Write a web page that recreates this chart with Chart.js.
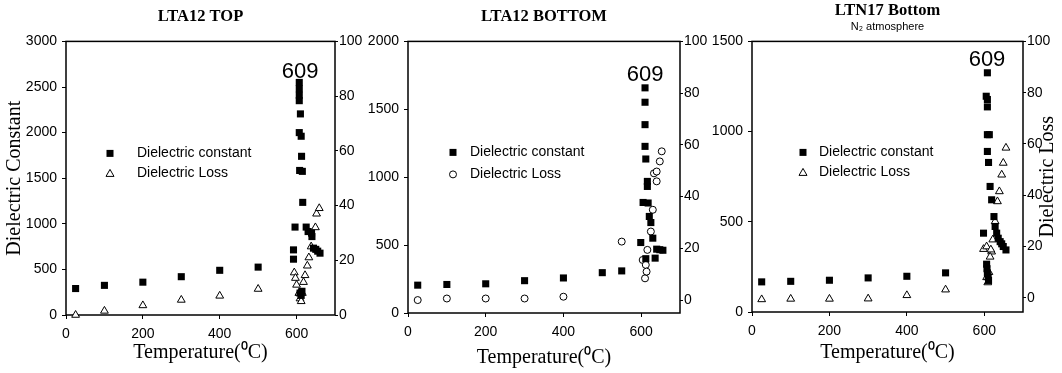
<!DOCTYPE html>
<html>
<head>
<meta charset="utf-8">
<script src="https://cdn.jsdelivr.net/npm/chart.js@4.4.1/dist/chart.umd.min.js"></script>
<style>
  body { margin: 0; background: #fff; }
  #wrap { position: relative; width: 1062px; height: 373px; background: #fff; }
  canvas { position: absolute; left: 0; top: 0; }
</style>
</head>
<body>
<div id="wrap">
  <canvas id="top" width="1062" height="373"></canvas>
  <canvas id="bottom" width="1062" height="373"></canvas>
  <canvas id="ltn" width="1062" height="373"></canvas>
</div>
<script>
const TEMP_TICKS = [0, 200, 400, 600];
const LOSS_TICKS = [0, 20, 40, 60, 80, 100];
const PEAK_LABEL = '609';

// LTA12 TOP
const TOP_CONST_TICKS = [0, 500, 1000, 1500, 2000, 2500, 3000];
const TOP_CONST_T = [25, 100, 200, 300, 400, 500, 592, 592, 596, 607, 607, 607, 607, 610, 607, 612, 613, 608, 615, 616, 625, 630, 639, 640, 644, 650, 655, 661, 609, 612, 614];
const TOP_CONST = [290, 325, 360, 420, 490, 525, 612, 714, 964, 2550, 2480, 2410, 2350, 2205, 2000, 1960, 1740, 1585, 1575, 1235, 964, 915, 898, 860, 733, 720, 700, 678, 240, 215, 260];
const TOP_LOSS_T = [25, 100, 200, 300, 400, 500, 594, 597, 600, 606, 609, 612, 615, 618, 622, 628, 632, 638, 649, 652, 659];
const TOP_LOSS = [0, 1.5, 3.5, 5.5, 7, 9.5, 15.5, 13.5, 11, 8, 6, 5, 8, 12, 14.5, 18, 21, 25, 32, 37, 39];

// LTA12 BOTTOM
const BOT_CONST_TICKS = [0, 500, 1000, 1500, 2000];
const BOT_CONST_T = [25, 100, 200, 300, 400, 500, 550, 610, 610, 610, 610, 612, 616, 616, 605, 618, 621, 625, 599, 630, 636, 640, 648, 656, 612];
const BOT_CONST = [205, 210, 215, 238, 258, 297, 310, 1658, 1552, 1387, 1227, 1134, 969, 932, 814, 810, 711, 666, 519, 551, 404, 470, 466, 462, 400];
const BOT_LOSS_T = [25, 100, 200, 300, 400, 550, 604, 610, 612, 614, 616, 625, 630, 633, 640, 640, 648, 653];
const BOT_LOSS = [0, 0.6, 0.6, 0.6, 1.3, 22.6, 15.5, 8.4, 13.6, 11, 19.4, 26.5, 34.9, 49, 45.9, 49.7, 53.6, 57.5];

// LTN17 Bottom (N2 atmosphere)
const LTN_CONST_TICKS = [0, 500, 1000, 1500];
const LTN_CONST_T = [25, 100, 200, 300, 400, 500, 598, 608, 605, 608, 608, 608, 613, 608, 611, 615, 619, 625, 628, 632, 636, 641, 645, 649, 656, 606, 607, 608, 610, 611];
const LTN_CONST = [167, 170, 176, 189, 198, 217, 437, 1326, 1196, 1178, 1137, 983, 983, 890, 829, 696, 622, 529, 474, 437, 409, 390, 378, 363, 344, 265, 240, 215, 195, 175];
const LTN_LOSS_T = [25, 100, 200, 300, 400, 500, 598, 606, 619, 615, 617, 622, 628, 634, 639, 645, 649, 656, 606, 609, 612];
const LTN_LOSS = [-0.6, -0.4, -0.4, -0.3, 1, 3.2, 19, 20, 18, 16, 18.8, 22.7, 29.8, 37.6, 41.5, 48, 52.6, 58.5, 8, 6, 10];

Chart.defaults.font.family = '"Liberation Sans", Arial, sans-serif';
Chart.defaults.color = '#000';

const pts = (xs, ys) => xs.map((x, i) => ({ x: x, y: ys[i] }));
const setTicks = (values) => (scale) => { scale.ticks = values.map(v => ({ value: v })); };
const plain = (v) => String(v);

function drawMarker(ctx, style, x, y) {
    ctx.beginPath();
    if (style === 'rect') {
        ctx.fillRect(x - 3.5, y - 3.5, 7, 7);
        return;
    }
    if (style === 'triangle') {
        ctx.moveTo(x, y - 4);
        ctx.lineTo(x + 4, y + 3);
        ctx.lineTo(x - 4, y + 3);
        ctx.closePath();
    } else {
        ctx.arc(x, y, 3.5, 0, Math.PI * 2);
    }
    ctx.stroke();
}

const panelText = {
    id: 'panelText',
    beforeDatasetsDraw(chart) {
        const { ctx, chartArea: a } = chart;
        ctx.save();
        ctx.strokeStyle = '#000';
        ctx.lineWidth = 1.5;
        ctx.strokeRect(a.left, a.top, a.right - a.left, a.bottom - a.top);
        ctx.restore();
    },
    afterDraw(chart, args, opts) {
        const { ctx, chartArea: a, scales } = chart;
        ctx.save();
        ctx.fillStyle = '#000';
        ctx.strokeStyle = '#000';
        ctx.lineWidth = 1;

        // peak temperature label
        ctx.font = '22px "Liberation Sans", Arial, sans-serif';
        ctx.textAlign = 'center';
        ctx.textBaseline = 'middle';
        ctx.fillText(PEAK_LABEL, scales.x.getPixelForValue(opts.peakX), scales.y.getPixelForValue(opts.peakY));

        // legend inside the plot
        ctx.font = '14px "Liberation Sans", Arial, sans-serif';
        ctx.textAlign = 'left';
        const lx = a.left + opts.legend.dx;
        const tx = a.left + opts.legend.tx;
        opts.legend.rows.forEach((row, i) => {
            const y = a.top + opts.legend.dy + i * opts.legend.gap;
            drawMarker(ctx, row.style, lx, y);
            ctx.fillText(row.text, tx, y);
        });

        if (opts.rightTitle) {
            ctx.font = '20px "Liberation Serif", "Times New Roman", serif';
            ctx.textAlign = 'center';
            ctx.translate(a.right + 25, (a.top + a.bottom) / 2);
            ctx.rotate(-Math.PI / 2);
            ctx.fillText(opts.rightTitle, 0, 0);
        }
        ctx.restore();
    }
};

function makePanel(id, cfg) {
    const serif = '"Liberation Serif", "Times New Roman", serif';
    return new Chart(document.getElementById(id), {
        type: 'scatter',
        data: {
            datasets: [
                {
                    label: 'Dielectric constant',
                    data: pts(cfg.constT, cfg.constV),
                    yAxisID: 'y',
                    pointStyle: 'rect',
                    pointRadius: 5,
                    backgroundColor: '#000',
                    borderColor: '#000',
                    borderWidth: 0,
                    clip: false
                },
                {
                    label: 'Dielectric Loss',
                    data: pts(cfg.lossT, cfg.lossV),
                    yAxisID: 'y2',
                    pointStyle: cfg.lossStyle,
                    pointRadius: cfg.lossStyle === 'circle' ? 3.5 : 4.5,
                    backgroundColor: '#fff',
                    borderColor: '#000',
                    borderWidth: 1,
                    clip: false
                }
            ]
        },
        options: {
            responsive: false,
            animation: false,
            layout: { padding: cfg.padding },
            plugins: {
                legend: { display: false },
                tooltip: { enabled: false },
                title: {
                    display: true,
                    text: cfg.title,
                    fullSize: false,
                    font: { family: serif, size: 16.5, weight: 'bold' },
                    padding: cfg.titlePad
                },
                subtitle: {
                    display: !!cfg.subtitle,
                    text: cfg.subtitle || '',
                    fullSize: false,
                    font: { size: 11 },
                    padding: cfg.subPad || 0
                },
                panelText: {
                    peakX: cfg.peakX,
                    peakY: cfg.peakY,
                    legend: cfg.legend,
                    rightTitle: cfg.rightTitle
                }
            },
            scales: {
                x: {
                    type: 'linear',
                    min: 0,
                    max: 700,
                    afterBuildTicks: setTicks(TEMP_TICKS),
                    afterFit: (s) => { s.height = cfg.xHeight; },
                    grid: { drawOnChartArea: false, tickLength: 4, color: '#000' },
                    border: { display: false },
                    ticks: { font: { size: 14 }, padding: 7, maxRotation: 0, callback: plain },
                    title: {
                        display: true,
                        text: 'Temperature(\u2070C)',
                        font: { family: serif, size: 20 },
                        padding: { top: 0, bottom: cfg.xTitlePad }
                    }
                },
                y: {
                    position: 'left',
                    min: 0,
                    max: cfg.constTicks[cfg.constTicks.length - 1],
                    afterBuildTicks: setTicks(cfg.constTicks),
                    afterFit: (s) => { s.width = cfg.leftWidth; },
                    grid: { drawOnChartArea: false, tickLength: 4, color: '#000' },
                    border: { display: false },
                    ticks: { font: { size: 14 }, padding: 5, callback: plain },
                    title: {
                        display: !!cfg.leftTitle,
                        text: cfg.leftTitle || '',
                        font: { family: serif, size: 20 },
                        padding: { top: 3, bottom: 0 }
                    }
                },
                y2: {
                    position: 'right',
                    min: cfg.lossMin,
                    max: 100,
                    afterBuildTicks: setTicks(LOSS_TICKS),
                    afterFit: (s) => { s.width = cfg.rightWidth; },
                    grid: { drawOnChartArea: false, tickLength: 3, color: '#000' },
                    border: { display: false },
                    ticks: { font: { size: 14 }, padding: 1, callback: plain }
                }
            }
        },
        plugins: [panelText]
    });
}

makePanel('top', {
    title: 'LTA12 TOP',
    titlePad: { top: 7, bottom: 14.6 },
    padding: { left: 0, right: 700, top: 0, bottom: 0 },
    leftWidth: 66, rightWidth: 27, xHeight: 58, xTitlePad: 8,
    leftTitle: 'Dielectric Constant',
    constTicks: TOP_CONST_TICKS, constT: TOP_CONST_T, constV: TOP_CONST,
    lossT: TOP_LOSS_T, lossV: TOP_LOSS, lossStyle: 'triangle', lossMin: 0,
    peakX: 609, peakY: 2670,
    legend: { dx: 44, tx: 71, dy: 112, gap: 20, rows: [
        { style: 'rect', text: 'Dielectric constant' },
        { style: 'triangle', text: 'Dielectric Loss' }
    ] }
});

makePanel('bottom', {
    title: 'LTA12 BOTTOM',
    titlePad: { top: 7, bottom: 14.6 },
    padding: { left: 358, right: 355, top: 0, bottom: 0 },
    leftWidth: 50, rightWidth: 27, xHeight: 60, xTitlePad: 3,
    constTicks: BOT_CONST_TICKS, constT: BOT_CONST_T, constV: BOT_CONST,
    lossT: BOT_LOSS_T, lossV: BOT_LOSS, lossStyle: 'circle', lossMin: -5,
    peakX: 610, peakY: 1756,
    legend: { dx: 45, tx: 62, dy: 111, gap: 22, rows: [
        { style: 'rect', text: 'Dielectric constant' },
        { style: 'circle', text: 'Dielectric Loss' }
    ] }
});

makePanel('ltn', {
    title: 'LTN17 Bottom',
    titlePad: { top: 1, bottom: 0 },
    subtitle: 'N\u2082 atmosphere',
    subPad: { top: 0, bottom: 7.4 },
    padding: { left: 702, right: 0, top: 0, bottom: 0 },
    leftWidth: 50, rightWidth: 39, xHeight: 61, xTitlePad: 8,
    rightTitle: 'Dielectric Loss',
    constTicks: LTN_CONST_TICKS, constT: LTN_CONST_T, constV: LTN_CONST,
    lossT: LTN_LOSS_T, lossV: LTN_LOSS, lossStyle: 'triangle', lossMin: -5.5,
    peakX: 607, peakY: 1400,
    legend: { dx: 51, tx: 67, dy: 111, gap: 20, rows: [
        { style: 'rect', text: 'Dielectric constant' },
        { style: 'triangle', text: 'Dielectric Loss' }
    ] }
});
</script>
</body>
</html>
